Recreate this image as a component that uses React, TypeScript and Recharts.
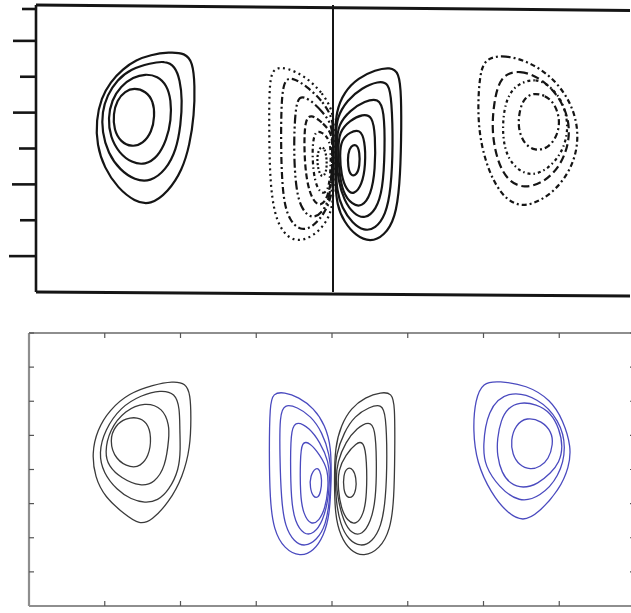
import React from 'react';
import { ScatterChart, Scatter, XAxis, YAxis, ReferenceLine } from 'recharts';

type Ring = number[][];

// ---------- upper panel: measured streamfunction (solid = positive, dashed = negative) ----------
const upperWest: Ring[] = [
  [[1.54,6.61],[1.79,6.69],[2.01,6.66],[2.11,6.41],[2.14,5.77],[2.13,4.93],[2.07,4.10],[1.97,3.40],[1.78,2.79],[1.54,2.42],[1.33,2.52],[1.10,2.90],[0.92,3.46],[0.82,4.10],[0.81,4.79],[0.88,5.41],[1.00,5.85],[1.17,6.22],[1.35,6.47]],
  [[1.54,6.38],[1.74,6.44],[1.87,6.30],[1.94,5.91],[1.97,5.35],[1.95,4.66],[1.89,3.96],[1.75,3.40],[1.54,3.07],[1.33,3.12],[1.13,3.40],[0.97,3.87],[0.89,4.46],[0.89,5.02],[0.96,5.49],[1.09,5.91],[1.28,6.22]],
  [[1.47,6.08],[1.64,6.02],[1.76,5.77],[1.82,5.35],[1.82,4.79],[1.76,4.24],[1.64,3.76],[1.47,3.54],[1.29,3.60],[1.12,3.87],[1.00,4.32],[0.97,4.85],[1.02,5.35],[1.14,5.74],[1.31,5.99]],
  [[1.32,5.69],[1.48,5.60],[1.58,5.32],[1.60,4.91],[1.56,4.46],[1.44,4.13],[1.29,4.04],[1.14,4.18],[1.05,4.52],[1.04,4.96],[1.09,5.35],[1.20,5.60]],
];

const upperEast: Ring[] = [
  [[6.03,6.52],[6.32,6.61],[6.65,6.41],[6.95,5.99],[7.17,5.41],[7.29,4.74],[7.30,4.04],[7.19,3.35],[6.95,2.73],[6.65,2.40],[6.44,2.43],[6.25,2.76],[6.09,3.40],[5.98,4.24],[5.95,5.07],[5.97,5.91]],
  [[6.25,6.05],[6.52,6.19],[6.79,5.97],[7.02,5.52],[7.17,4.91],[7.19,4.24],[7.08,3.57],[6.86,3.07],[6.57,2.87],[6.34,3.12],[6.21,3.68],[6.14,4.43],[6.16,5.21]],
  [[6.49,5.80],[6.73,5.97],[6.95,5.71],[7.10,5.27],[7.17,4.68],[7.13,4.10],[6.98,3.57],[6.73,3.23],[6.51,3.35],[6.34,3.76],[6.28,4.38],[6.30,5.07],[6.37,5.52]],
  [[6.68,5.55],[6.86,5.49],[6.99,5.24],[7.06,4.79],[7.02,4.35],[6.90,4.01],[6.72,3.93],[6.57,4.13],[6.49,4.57],[6.51,5.05],[6.57,5.38]],
];

const upperCorePositive: Ring[] = [
  [[4.04,5.02],[4.15,5.58],[4.34,5.97],[4.57,6.19],[4.77,6.27],[4.89,6.13],[4.92,5.49],[4.92,4.24],[4.90,2.98],[4.84,2.06],[4.69,1.56],[4.50,1.39],[4.31,1.56],[4.15,1.95],[4.05,2.43],[4.03,3.10],[4.03,3.68],[4.03,4.40]],
  [[4.05,4.85],[4.19,5.35],[4.39,5.69],[4.61,5.88],[4.75,5.83],[4.79,5.35],[4.81,4.10],[4.78,2.84],[4.71,2.15],[4.57,1.76],[4.42,1.70],[4.26,1.92],[4.12,2.34],[4.05,2.84],[4.04,3.40],[4.04,3.96],[4.04,4.40]],
  [[4.07,4.66],[4.23,5.07],[4.43,5.32],[4.61,5.41],[4.69,5.07],[4.70,3.96],[4.67,2.84],[4.58,2.29],[4.43,2.03],[4.28,2.17],[4.15,2.54],[4.07,3.12],[4.05,3.60],[4.05,4.20]],
  [[4.08,4.46],[4.23,4.79],[4.40,4.96],[4.53,4.91],[4.57,4.38],[4.57,3.40],[4.51,2.70],[4.39,2.37],[4.26,2.43],[4.13,2.76],[4.08,3.40],[4.07,3.96]],
  [[4.11,4.24],[4.23,4.46],[4.36,4.54],[4.43,4.24],[4.44,3.54],[4.39,2.98],[4.28,2.70],[4.18,2.84],[4.11,3.26],[4.09,3.82]],
  [[4.24,4.07],[4.32,4.13],[4.36,3.90],[4.36,3.51],[4.32,3.26],[4.24,3.23],[4.20,3.48],[4.20,3.87]],
];

const upperCoreNegative: Ring[] = [
  [[4.01,5.02],[3.85,5.58],[3.62,6.02],[3.39,6.24],[3.21,6.27],[3.14,5.91],[3.14,4.52],[3.15,3.12],[3.21,2.15],[3.34,1.59],[3.53,1.39],[3.74,1.56],[3.92,1.95],[4.00,2.43],[4.01,3.10],[4.01,3.68],[4.01,4.40]],
  [[4.00,4.85],[3.85,5.35],[3.64,5.74],[3.45,5.99],[3.33,5.91],[3.30,5.07],[3.30,3.68],[3.33,2.56],[3.41,2.01],[3.56,1.70],[3.73,1.81],[3.89,2.20],[3.99,2.70],[4.00,3.40],[4.00,3.96],[4.00,4.40]],
  [[3.99,4.66],[3.85,5.05],[3.68,5.38],[3.54,5.49],[3.49,5.07],[3.47,3.96],[3.50,2.84],[3.58,2.29],[3.72,2.03],[3.87,2.23],[3.97,2.70],[3.99,3.68],[3.99,4.20]],
  [[3.99,4.43],[3.85,4.74],[3.70,4.96],[3.62,4.79],[3.61,3.96],[3.64,3.12],[3.72,2.56],[3.83,2.37],[3.93,2.62],[3.99,3.26],[3.99,3.96]],
  [[3.97,4.24],[3.85,4.46],[3.76,4.49],[3.72,4.10],[3.73,3.40],[3.78,2.90],[3.87,2.70],[3.95,2.90],[3.97,3.54]],
  [[3.83,4.07],[3.89,4.01],[3.92,3.68],[3.91,3.32],[3.85,3.18],[3.80,3.40],[3.78,3.79]],
];

// ---------- lower panel: model streamfunction (black = positive, blue = negative) ----------
const lowerWest: Ring[] = [
  [[1.64,6.48],[1.90,6.59],[2.07,6.53],[2.13,6.20],[2.14,5.54],[2.13,4.66],[2.03,3.78],[1.85,3.05],[1.62,2.50],[1.46,2.38],[1.27,2.67],[1.00,3.19],[0.87,3.78],[0.83,4.48],[0.90,5.16],[1.06,5.74],[1.32,6.24]],
  [[1.48,6.18],[1.74,6.33],[1.93,6.24],[1.99,5.80],[1.99,5.16],[2.00,4.60],[1.98,3.99],[1.85,3.40],[1.70,3.08],[1.53,3.02],[1.35,3.12],[1.16,3.40],[0.98,3.90],[0.92,4.48],[1.00,5.16],[1.21,5.83]],
  [[1.53,5.98],[1.77,5.80],[1.85,5.30],[1.85,4.95],[1.80,4.07],[1.66,3.62],[1.48,3.49],[1.21,3.75],[1.05,4.10],[1.00,4.48],[1.06,5.16],[1.27,5.74]],
  [[1.43,5.54],[1.56,5.39],[1.62,4.95],[1.58,4.37],[1.47,4.10],[1.35,4.04],[1.14,4.28],[1.06,4.86],[1.14,5.30],[1.28,5.50]],
];

const lowerEast: Ring[] = [
  [[5.99,6.56],[6.20,6.59],[6.57,6.48],[6.89,6.04],[7.05,5.45],[7.16,4.66],[7.13,4.07],[7.00,3.40],[6.73,2.73],[6.52,2.46],[6.31,2.73],[6.10,3.31],[5.91,4.19],[5.86,5.16],[5.89,6.04]],
  [[6.31,6.33],[6.73,6.10],[7.00,5.45],[7.10,4.66],[7.00,3.78],[6.75,3.20],[6.47,3.02],[6.20,3.49],[6.02,4.10],[5.99,4.66],[6.05,5.74]],
  [[6.47,5.98],[6.70,5.92],[6.89,5.66],[7.00,5.20],[7.05,4.66],[7.00,4.20],[6.89,3.90],[6.72,3.58],[6.52,3.44],[6.35,3.58],[6.24,3.90],[6.18,4.40],[6.18,4.90],[6.23,5.45],[6.32,5.80]],
  [[6.57,5.54],[6.77,5.42],[6.90,5.10],[6.92,4.75],[6.86,4.30],[6.75,4.08],[6.62,3.99],[6.47,4.12],[6.38,4.45],[6.36,4.86],[6.42,5.30]],
];

const lowerCoreBlack: Ring[] = [
  [[4.04,4.66],[4.12,5.30],[4.25,5.80],[4.44,6.12],[4.65,6.27],[4.79,6.24],[4.83,5.89],[4.83,4.57],[4.82,3.11],[4.77,2.23],[4.63,1.67],[4.42,1.44],[4.24,1.61],[4.11,2.05],[4.04,2.67],[4.03,3.69]],
  [[4.05,4.43],[4.16,5.10],[4.30,5.57],[4.49,5.83],[4.66,5.92],[4.71,5.60],[4.73,4.43],[4.71,3.11],[4.65,2.32],[4.53,1.88],[4.38,1.73],[4.22,1.93],[4.11,2.37],[4.05,3.11],[4.04,3.84]],
  [[4.07,4.22],[4.18,4.81],[4.33,5.22],[4.49,5.42],[4.57,5.22],[4.59,4.28],[4.58,3.11],[4.51,2.46],[4.40,2.08],[4.26,2.11],[4.15,2.49],[4.08,3.11],[4.05,3.69]],
  [[4.08,3.99],[4.18,4.43],[4.32,4.78],[4.42,4.84],[4.46,4.28],[4.46,3.25],[4.42,2.70],[4.32,2.37],[4.20,2.49],[4.12,2.87],[4.08,3.40]],
  [[4.20,4.07],[4.28,4.02],[4.32,3.75],[4.32,3.43],[4.28,3.19],[4.20,3.16],[4.15,3.40],[4.15,3.84]],
];

const lowerCoreBlue: Ring[] = [
  [[3.99,4.66],[3.91,5.30],[3.76,5.80],[3.56,6.12],[3.37,6.27],[3.22,6.24],[3.18,5.89],[3.17,4.57],[3.18,3.11],[3.23,2.23],[3.37,1.67],[3.58,1.44],[3.76,1.61],[3.89,2.05],[3.97,2.67],[3.99,3.69]],
  [[3.97,4.43],[3.87,5.10],[3.72,5.57],[3.54,5.83],[3.37,5.92],[3.31,5.60],[3.31,4.43],[3.33,3.11],[3.38,2.32],[3.50,1.88],[3.64,1.73],[3.80,1.93],[3.92,2.37],[3.97,3.11],[3.99,3.84]],
  [[3.96,4.22],[3.84,4.81],[3.70,5.22],[3.54,5.42],[3.46,5.22],[3.45,4.28],[3.46,3.11],[3.51,2.46],[3.63,2.08],[3.76,2.11],[3.88,2.49],[3.95,3.11],[3.97,3.69]],
  [[3.95,3.99],[3.84,4.43],[3.71,4.78],[3.60,4.84],[3.58,4.28],[3.58,3.25],[3.62,2.70],[3.72,2.37],[3.83,2.49],[3.91,2.87],[3.95,3.40]],
  [[3.79,4.07],[3.84,3.99],[3.87,3.69],[3.85,3.34],[3.82,3.17],[3.75,3.19],[3.71,3.46],[3.71,3.81]],
];

const gridTicks = [0, 1, 2, 3, 4, 5, 6, 7, 8];

// ---------- styling ----------
const INK = '#151515';
const UPPER_AXIS_X = 36;
const upperTickLength = [16, 27, 16, 24, 17, 23, 16, 23, 14];
const upperEastDash = ['5 3 2 3', '8 4', '3 3 1.5 3', '6 3 2 3'];
const upperCoreDash = ['2 3.5', '7 3 2 3', '9 3 2 3 2 3', '6 3', '4 3 1.5 3', '2 2'];
const LOWER_BLACK = '#3a3a3a';
const LOWER_BLUE = '#4a4abf';
const BOX = '#8e8e8e';
const BOX_TICK = { stroke: '#555', strokeWidth: 1.2 };
const BOX_LINE = { stroke: BOX, strokeWidth: 2.2 };

const toPoints = (ring: Ring) => ring.map(([x, y]) => ({ x, y }));
const noMarker = () => <g />;
const noLabel = () => <g />;

const UpperLeftTick = (props: any) => {
  const { y, payload } = props;
  const len = upperTickLength[payload.value] ?? 16;
  return (
    <line x1={UPPER_AXIS_X - len} x2={UPPER_AXIS_X} y1={y} y2={y} stroke={INK} strokeWidth={2.6} />
  );
};

const contour = (
  ring: Ring,
  key: string,
  stroke: string,
  width: number,
  dash?: string,
  axisIds?: { xAxisId: string; yAxisId: string }
) => (
  <Scatter
    key={key}
    {...(axisIds || {})}
    data={toPoints(ring)}
    line={{ stroke, strokeWidth: width, strokeDasharray: dash, fill: 'none' }}
    lineJointType="basisClosed"
    shape={noMarker}
    isAnimationActive={false}
  />
);

export default function App() {
  // the four box axes share one [0, 8] domain, so either pair places a ring identically
  const bottomLeft = { xAxisId: 'bottom', yAxisId: 'left' };
  const topRight = { xAxisId: 'top', yAxisId: 'right' };
  return (
    <div
      style={{
        position: 'absolute',
        left: 0,
        top: 0,
        width: 631,
        height: 613,
        overflow: 'hidden',
        background: '#fff',
      }}
    >
      {/* upper panel */}
      <div style={{ position: 'absolute', left: 0, top: 0 }}>
        <ScatterChart width={640} height={300} margin={{ top: 5, right: 10, bottom: 8, left: 6 }}>
          <XAxis type="number" dataKey="x" domain={[0, 8]} hide />
          <YAxis
            type="number"
            dataKey="y"
            domain={[0, 8]}
            ticks={gridTicks}
            width={30}
            tickLine={false}
            tickSize={0}
            tickMargin={0}
            axisLine={{ stroke: INK, strokeWidth: 2.6 }}
            tick={<UpperLeftTick />}
          />
          <ReferenceLine
            segment={[{ x: 0, y: 8 }, { x: 8, y: 7.85 }]}
            stroke={INK}
            strokeWidth={3}
            ifOverflow="visible"
          />
          <ReferenceLine
            segment={[{ x: 0, y: 0 }, { x: 8, y: -0.11 }]}
            stroke={INK}
            strokeWidth={3}
            ifOverflow="visible"
          />
          <ReferenceLine x={4} stroke={INK} strokeWidth={2} />
          {upperWest.map((r, i) => contour(r, `uw${i}`, INK, 2.2))}
          {upperEast.map((r, i) => contour(r, `ue${i}`, INK, 2.2, upperEastDash[i]))}
          {upperCorePositive.map((r, i) => contour(r, `ucp${i}`, INK, 2.2))}
          {upperCoreNegative.map((r, i) => contour(r, `ucn${i}`, INK, 2.2, upperCoreDash[i]))}
        </ScatterChart>
      </div>

      {/* lower panel */}
      <div style={{ position: 'absolute', left: 0, top: 320 }}>
        <ScatterChart width={640} height={293} margin={{ top: 13, right: 5, bottom: 7, left: 29 }}>
          <XAxis
            xAxisId="bottom"
            type="number"
            dataKey="x"
            domain={[0, 8]}
            ticks={gridTicks}
            mirror
            tick={noLabel}
            tickSize={5}
            axisLine={BOX_LINE}
            tickLine={BOX_TICK}
          />
          <XAxis
            xAxisId="top"
            orientation="top"
            type="number"
            dataKey="x"
            domain={[0, 8]}
            ticks={gridTicks}
            mirror
            tick={noLabel}
            tickSize={5}
            axisLine={BOX_LINE}
            tickLine={BOX_TICK}
          />
          <YAxis
            yAxisId="left"
            type="number"
            dataKey="y"
            domain={[0, 8]}
            ticks={gridTicks}
            mirror
            tick={noLabel}
            tickSize={5}
            axisLine={BOX_LINE}
            tickLine={BOX_TICK}
          />
          <YAxis
            yAxisId="right"
            orientation="right"
            type="number"
            dataKey="y"
            domain={[0, 8]}
            ticks={gridTicks}
            mirror
            tick={noLabel}
            tickSize={5}
            axisLine={BOX_LINE}
            tickLine={BOX_TICK}
          />
          {lowerWest.map((r, i) => contour(r, `lw${i}`, LOWER_BLACK, 1.3, undefined, bottomLeft))}
          {lowerCoreBlack.map((r, i) => contour(r, `lcb${i}`, LOWER_BLACK, 1.3, undefined, bottomLeft))}
          {lowerEast.map((r, i) => contour(r, `le${i}`, LOWER_BLUE, 1.3, undefined, topRight))}
          {lowerCoreBlue.map((r, i) => contour(r, `lcu${i}`, LOWER_BLUE, 1.3, undefined, topRight))}
        </ScatterChart>
      </div>
    </div>
  );
}
